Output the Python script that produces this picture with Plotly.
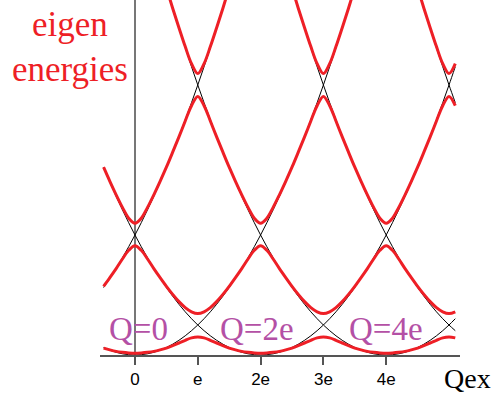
import plotly.graph_objects as go

# external charge, in units of e (shared sampling grid)
X = [-0.5, -0.4, -0.3, -0.2, -0.1, 0.0, 0.1, 0.2, 0.3, 0.4, 0.5, 0.6, 0.7, 0.8, 0.9,
     1.0, 1.1, 1.2, 1.3, 1.4, 1.5, 1.6, 1.7, 1.8, 1.9, 2.0, 2.1, 2.2, 2.3, 2.4, 2.5,
     2.6, 2.7, 2.8, 2.9, 3.0, 3.1, 3.2, 3.3, 3.4, 3.5, 3.6, 3.7, 3.8, 3.9, 4.0, 4.1,
     4.2, 4.3, 4.4, 4.5, 4.6, 4.7, 4.8, 4.9, 5.0, 5.1]

# charging parabolas (thin black), one per island charge Q
charge_m2 = [2.25, 2.56, 2.89, 3.24, 3.61, 4.0, 4.41, 4.84, 5.29, 5.76, 6.25, 6.76, 7.29,
             7.84, 8.41, 9.0, 9.61, 10.24, 10.89, 11.56, 12.25, 12.96] + [None] * 35
charge_0 = [0.25, 0.16, 0.09, 0.04, 0.01, 0.0, 0.01, 0.04, 0.09, 0.16, 0.25, 0.36, 0.49,
            0.64, 0.81, 1.0, 1.21, 1.44, 1.69, 1.96, 2.25, 2.56, 2.89, 3.24, 3.61, 4.0,
            4.41, 4.84, 5.29, 5.76, 6.25, 6.76, 7.29, 7.84, 8.41, 9.0, 9.61, 10.24, 10.89,
            11.56, 12.25, 12.96] + [None] * 15
charge_2 = [6.25, 5.76, 5.29, 4.84, 4.41, 4.0, 3.61, 3.24, 2.89, 2.56, 2.25, 1.96, 1.69,
            1.44, 1.21, 1.0, 0.81, 0.64, 0.49, 0.36, 0.25, 0.16, 0.09, 0.04, 0.01, 0.0,
            0.01, 0.04, 0.09, 0.16, 0.25, 0.36, 0.49, 0.64, 0.81, 1.0, 1.21, 1.44, 1.69,
            1.96, 2.25, 2.56, 2.89, 3.24, 3.61, 4.0, 4.41, 4.84, 5.29, 5.76, 6.25, 6.76,
            7.29, 7.84, 8.41, 9.0, 9.61]
charge_4 = [None] * 9 + [12.96, 12.25, 11.56, 10.89, 10.24, 9.61, 9.0, 8.41, 7.84, 7.29,
                         6.76, 6.25, 5.76, 5.29, 4.84, 4.41, 4.0, 3.61, 3.24, 2.89, 2.56,
                         2.25, 1.96, 1.69, 1.44, 1.21, 1.0, 0.81, 0.64, 0.49, 0.36, 0.25,
                         0.16, 0.09, 0.04, 0.01, 0.0, 0.01, 0.04, 0.09, 0.16, 0.25, 0.36,
                         0.49, 0.64, 0.81, 1.0, 1.21]
charge_6 = [None] * 29 + [12.96, 12.25, 11.56, 10.89, 10.24, 9.61, 9.0, 8.41, 7.84, 7.29,
                          6.76, 6.25, 5.76, 5.29, 4.84, 4.41, 4.0, 3.61, 3.24, 2.89, 2.56,
                          2.25, 1.96, 1.69, 1.44, 1.21, 1.0, 0.81]
charge_8 = [None] * 49 + [12.96, 12.25, 11.56, 10.89, 10.24, 9.61, 9.0, 8.41]

# eigen energies (thick red), lowest band first
band_0 = [0.23, 0.17, 0.12, 0.09, 0.07,
          0.06, 0.07, 0.09, 0.12, 0.17, 0.23, 0.31, 0.40, 0.49, 0.57, 0.60,
          0.57, 0.49, 0.40, 0.31, 0.23, 0.17, 0.12, 0.09, 0.07, 0.06,
          0.07, 0.09, 0.12, 0.17, 0.23, 0.31, 0.40, 0.49, 0.57, 0.60,
          0.57, 0.49, 0.40, 0.31, 0.23, 0.17, 0.12, 0.09, 0.07, 0.06,
          0.07, 0.09, 0.12, 0.17, 0.23, 0.31, 0.40, 0.49, 0.57, 0.60, 0.57]
band_1 = [2.29, 2.58, 2.88, 3.20, 3.49,
          3.64, 3.49, 3.20, 2.88, 2.58, 2.29, 2.02, 1.78, 1.58, 1.44, 1.38,
          1.44, 1.58, 1.78, 2.02, 2.29, 2.58, 2.88, 3.20, 3.49, 3.64,
          3.49, 3.20, 2.88, 2.58, 2.29, 2.02, 1.78, 1.58, 1.44, 1.38,
          1.44, 1.58, 1.78, 2.02, 2.29, 2.58, 2.88, 3.20, 3.49, 3.64,
          3.49, 3.20, 2.88, 2.58, 2.29, 2.02, 1.78, 1.58, 1.44, 1.38, 1.44]
band_2 = [6.26, 5.79, 5.34, 4.92, 4.56,
          4.39, 4.56, 4.92, 5.34, 5.79, 6.26, 6.76, 7.27, 7.80, 8.31, 8.62,
          8.31, 7.80, 7.27, 6.76, 6.26, 5.79, 5.34, 4.92, 4.56, 4.39,
          4.56, 4.92, 5.34, 5.79, 6.26, 6.76, 7.27, 7.80, 8.31, 8.62,
          8.31, 7.80, 7.27, 6.76, 6.26, 5.79, 5.34, 4.92, 4.56, 4.39,
          4.56, 4.92, 5.34, 5.79, 6.26, 6.76, 7.27, 7.80, 8.31, 8.62, 8.31]
band_3 = [12.24, 12.93, 13.64, 14.36, 15.06,
          15.60, 15.06, 14.36, 13.64, 12.93, 12.24, 11.56, 10.91, 10.28, 9.71, 9.38,
          9.71, 10.28, 10.91, 11.56, 12.24, 12.93, 13.64, 14.36, 15.06, 15.60,
          15.06, 14.36, 13.64, 12.93, 12.24, 11.56, 10.91, 10.28, 9.71, 9.38,
          9.71, 10.28, 10.91, 11.56, 12.24, 12.93, 13.64, 14.36, 15.06, 15.60,
          15.06, 14.36, 13.64, 12.93, 12.24, 11.56, 10.91, 10.28, 9.71, 9.38, 9.71]

tick_vals = [0, 1, 2, 3, 4]
tick_text = ["0", "e", "2e", "3e", "4e"]

state_labels = ["Q=0", "Q=2e", "Q=4e"]
state_pos = [0.06, 1.94, 4.0]

RED = "#ee1f26"
PURPLE = "#b450a5"
SERIF = "Liberation Serif, Times New Roman, serif"

fig = go.Figure()

for ys in [charge_m2, charge_0, charge_2, charge_4, charge_6, charge_8]:
    fig.add_trace(go.Scatter(x=X, y=ys, mode="lines", line=dict(color="black", width=1, shape="spline"),
                             hoverinfo="skip"))

for ys in [band_0, band_1, band_2, band_3]:
    fig.add_trace(go.Scatter(x=X, y=ys, mode="lines", line=dict(color=RED, width=3, shape="spline"),
                             hoverinfo="skip"))

for label, xpos in zip(state_labels, state_pos):
    fig.add_annotation(x=xpos, y=0.88, xref="x", yref="y", text=label, showarrow=False,
                       xanchor="center", yanchor="middle",
                       font=dict(family=SERIF, size=33, color=PURPLE))

fig.add_annotation(x=-0.083, y=0.93, xref="paper", yref="paper", text="eigen", showarrow=False,
                   xanchor="center", yanchor="middle", font=dict(family=SERIF, size=35, color=RED))
fig.add_annotation(x=-0.083, y=0.805, xref="paper", yref="paper", text="energies", showarrow=False,
                   xanchor="center", yanchor="middle", font=dict(family=SERIF, size=35, color=RED))
fig.add_annotation(x=0.95, y=-0.065, xref="paper", yref="paper", text="Qex", showarrow=False,
                   xanchor="left", yanchor="middle", font=dict(family=SERIF, size=28, color="black"))

fig.update_xaxes(range=[-0.557, 5.175], showline=True, linecolor="#555", linewidth=2,
                 ticks="outside", ticklen=8, tickwidth=2, tickcolor="#555",
                 tickvals=tick_vals, ticktext=tick_text,
                 tickfont=dict(family="Liberation Sans, Arial, sans-serif", size=17, color="black"),
                 showgrid=False, zeroline=True, zerolinecolor="#777", zerolinewidth=2)
fig.update_yaxes(range=[0, 11.833], visible=False)

fig.update_layout(width=491, height=408, margin=dict(l=100, r=31, t=0, b=53),
                  plot_bgcolor="white", paper_bgcolor="white", showlegend=False)

fig.write_html("out.html", config={"displayModeBar": False},
               post_script="document.body.style.margin = '0';")
